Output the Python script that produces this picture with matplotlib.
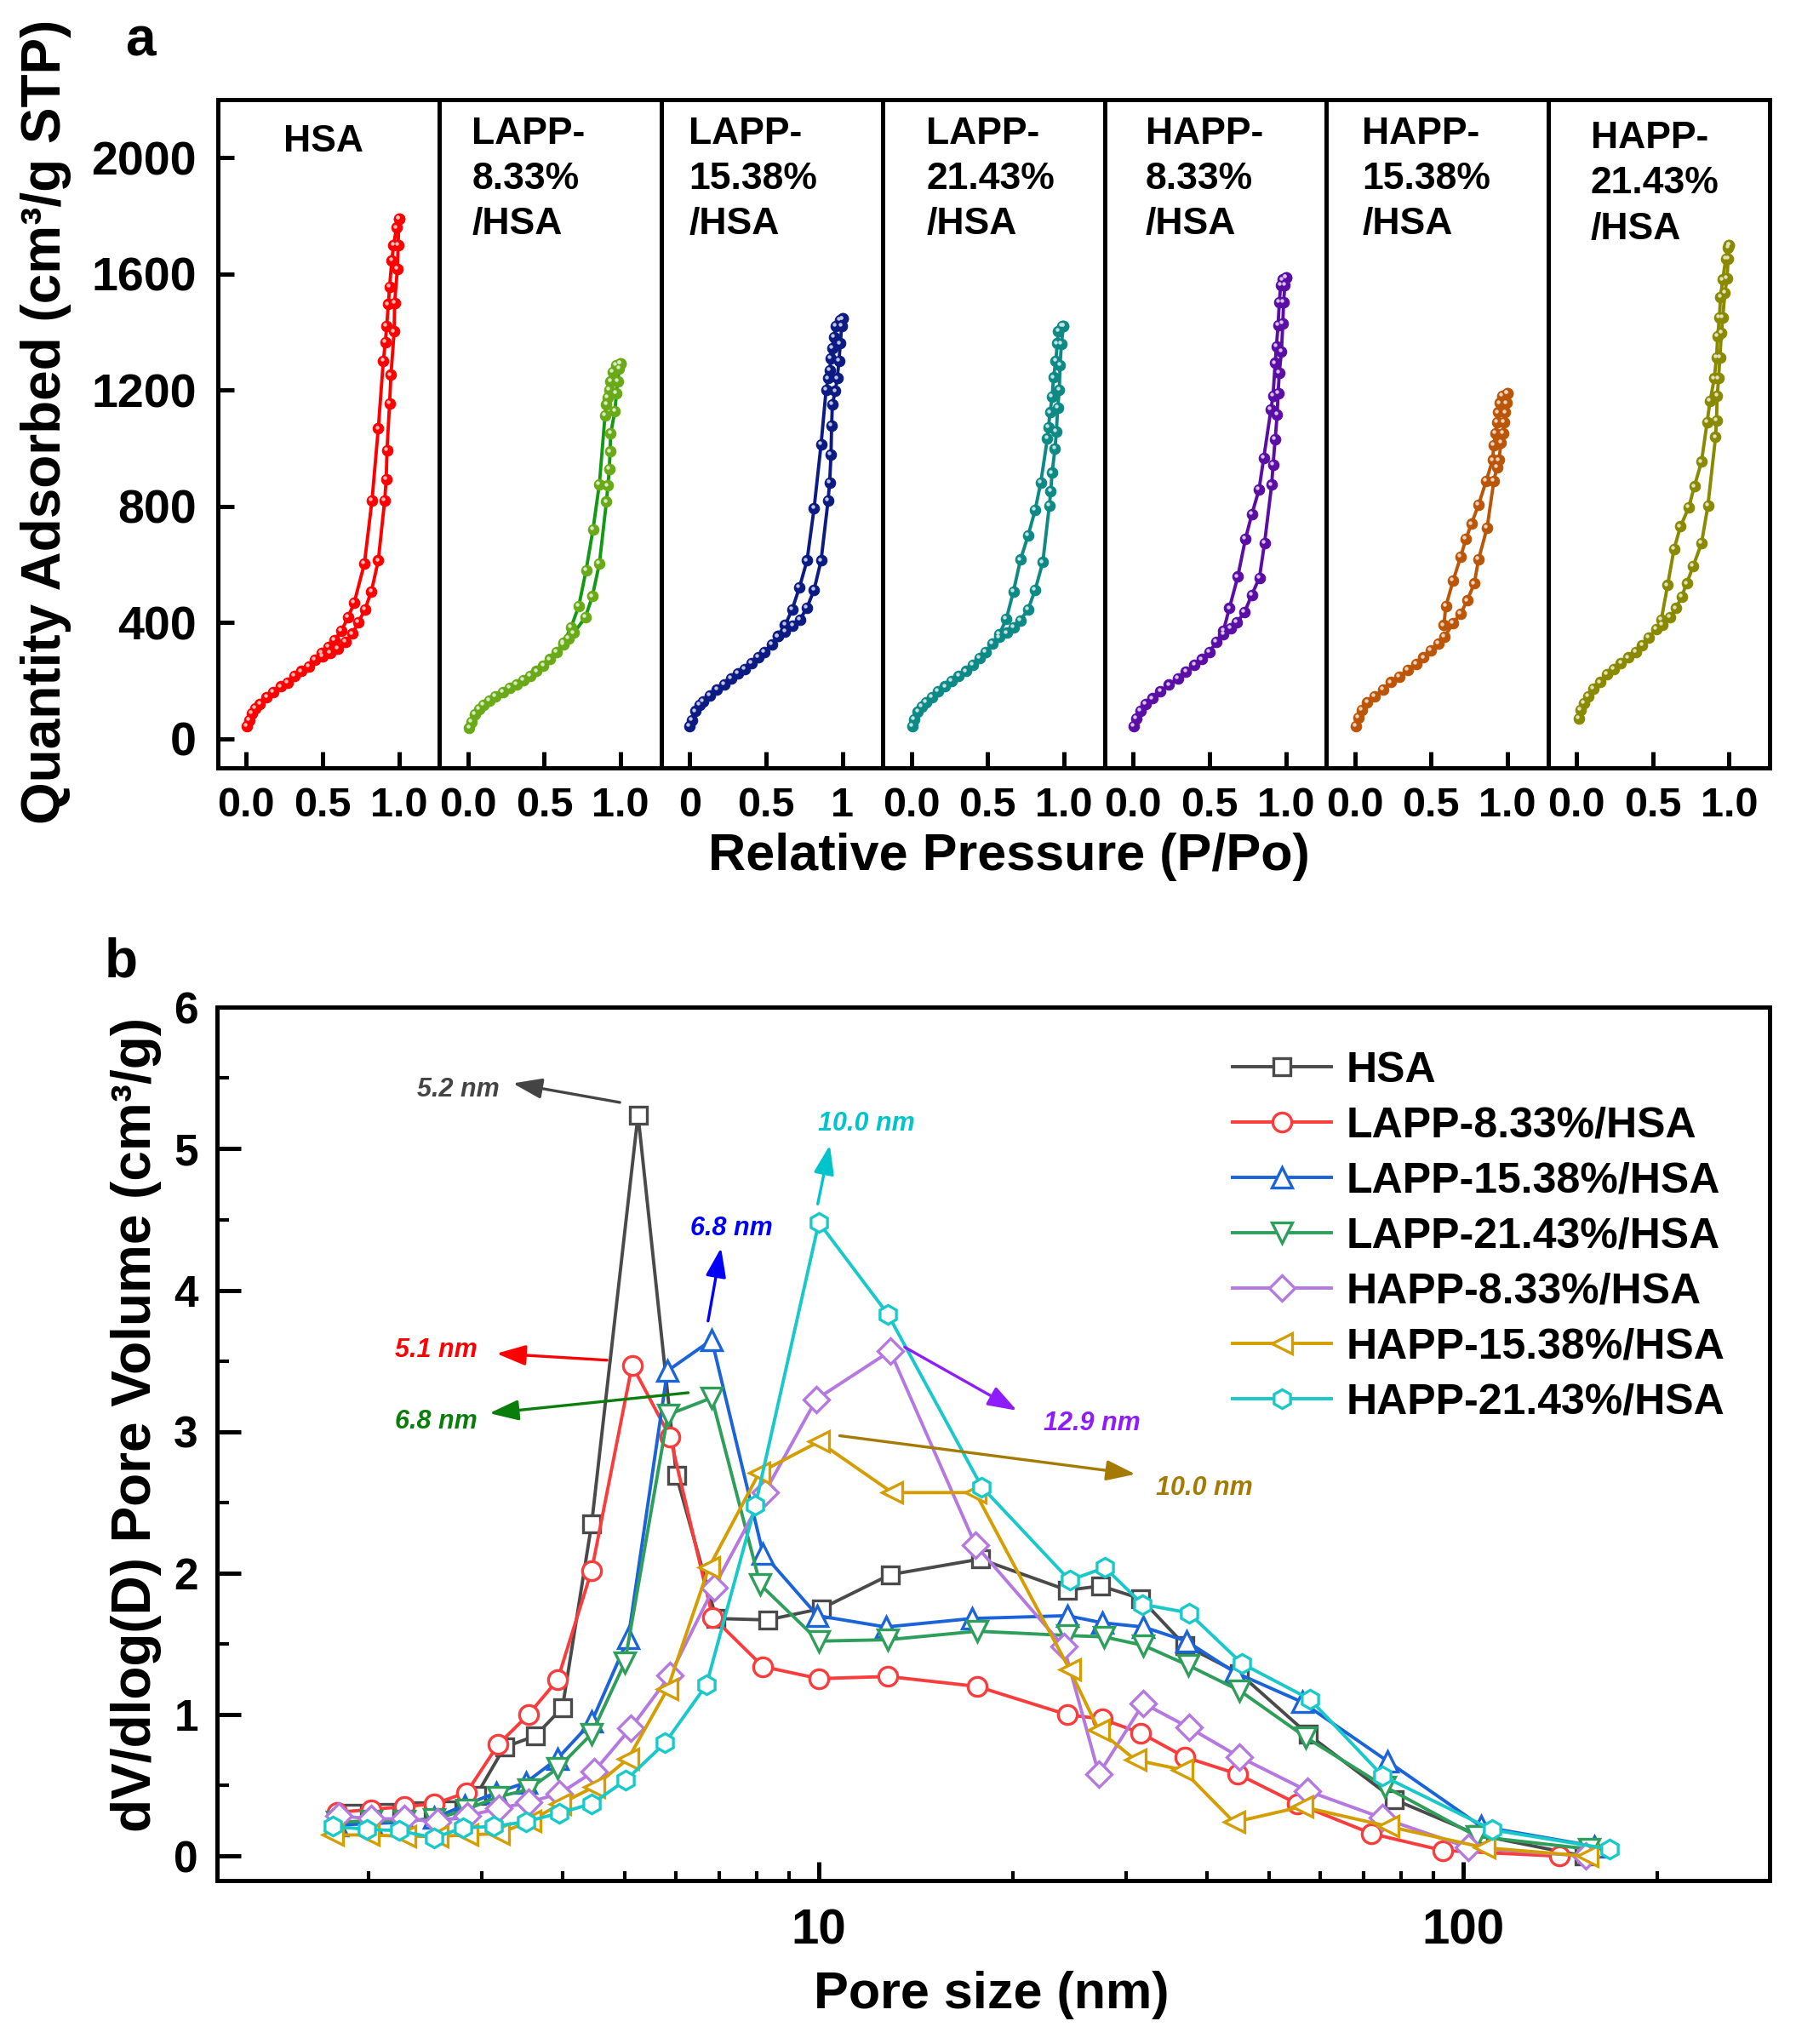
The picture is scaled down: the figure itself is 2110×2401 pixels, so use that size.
import numpy as np
import matplotlib
matplotlib.use('Agg')
import matplotlib.pyplot as plt
from matplotlib import transforms
from matplotlib.colors import to_rgb
from matplotlib.ticker import LogLocator, NullFormatter, FixedLocator

plt.rcParams['font.family'] = ['Liberation Sans', 'DejaVu Sans']
plt.rcParams['font.weight'] = 'bold'

# ---------------- (a) N2 isotherms ----------------
hsa_p_ads = [0.005, 0.02, 0.037, 0.06, 0.09, 0.135, 0.176, 0.226, 0.27, 0.315, 0.36, 0.41, 0.45, 0.5, 0.55, 0.6,
             0.652, 0.694, 0.735, 0.778, 0.82, 0.865, 0.907, 0.917, 0.922, 0.939, 0.948, 0.969, 0.972, 0.99, 0.995, 1.0]
hsa_q_ads = [43, 65, 87, 106, 121, 143, 160, 180, 194, 216, 233, 250, 272, 285, 296, 310,
             334, 362, 401, 446, 508, 614, 821, 894, 993, 1154, 1253, 1402, 1501, 1617, 1700, 1790]
hsa_p_des = [1.0, 0.985, 0.965, 0.954, 0.939, 0.931, 0.92, 0.911, 0.898, 0.865, 0.824, 0.774, 0.707, 0.667, 0.624, 0.578, 0.54, 0.494]
hsa_q_des = [1790, 1760, 1700, 1648, 1557, 1496, 1421, 1365, 1301, 1068, 821, 603, 468, 418, 373, 339, 317, 295]

l8_p_ads = [0.009, 0.024, 0.046, 0.074, 0.1, 0.139, 0.18, 0.228, 0.274, 0.319, 0.363, 0.407, 0.45, 0.494, 0.537, 0.583,
            0.626, 0.657, 0.694, 0.769, 0.815, 0.861, 0.907, 0.917, 0.926, 0.931, 0.935, 0.963, 0.972, 0.981, 0.991, 1.0]
l8_q_ads = [37, 59, 84, 102, 118, 132, 147, 160, 175, 188, 203, 216, 233, 252, 274, 300,
            325, 345, 365, 418, 491, 603, 816, 872, 928, 989, 1051, 1129, 1189, 1230, 1275, 1292]
l8_p_des = [1.0, 0.972, 0.95, 0.935, 0.926, 0.917, 0.907, 0.898, 0.861, 0.819, 0.774, 0.726, 0.676, 0.626]
l8_q_des = [1292, 1286, 1264, 1230, 1202, 1174, 1152, 1113, 877, 720, 580, 457, 384, 331]

l15_p_ads = [0.0, 0.015, 0.037, 0.065, 0.089, 0.133, 0.18, 0.226, 0.272, 0.315, 0.361, 0.407, 0.45, 0.491, 0.537, 0.58,
             0.626, 0.676, 0.722, 0.769, 0.815, 0.861, 0.907, 0.917, 0.926, 0.93, 0.935, 0.954, 0.967, 0.978, 0.987, 0.996, 1.0]
l15_q_ads = [43, 65, 95, 118, 129, 149, 169, 188, 207, 225, 241, 261, 281, 300, 326, 353,
             370, 390, 410, 452, 513, 614, 821, 883, 978, 1079, 1152, 1197, 1241, 1301, 1361, 1421, 1446]
l15_p_des = [1.0, 0.985, 0.959, 0.944, 0.935, 0.926, 0.917, 0.907, 0.894, 0.861, 0.815, 0.769, 0.719, 0.672, 0.626, 0.58]
l15_q_des = [1446, 1443, 1421, 1384, 1346, 1309, 1269, 1241, 1202, 1014, 793, 614, 521, 446, 392, 353]

l21_p_ads = [0.006, 0.02, 0.043, 0.07, 0.098, 0.135, 0.176, 0.222, 0.265, 0.311, 0.357, 0.404, 0.446, 0.487, 0.533, 0.576,
             0.626, 0.672, 0.713, 0.765, 0.811, 0.861, 0.904, 0.913, 0.922, 0.941, 0.95, 0.959, 0.969, 0.974, 0.983, 0.996]
l21_q_ads = [43, 68, 93, 112, 127, 143, 164, 180, 199, 216, 233, 255, 278, 300, 328, 350,
             365, 385, 407, 446, 513, 608, 804, 853, 916, 1000, 1057, 1141, 1202, 1286, 1359, 1421]
l21_p_des = [0.996, 0.987, 0.963, 0.956, 0.946, 0.931, 0.922, 0.909, 0.898, 0.891, 0.848, 0.811, 0.765, 0.715, 0.669, 0.622, 0.576]
l21_q_des = [1421, 1421, 1404, 1361, 1301, 1244, 1178, 1124, 1073, 1034, 883, 788, 700, 617, 508, 412, 360]

h8_p_ads = [0.006, 0.022, 0.047, 0.083, 0.125, 0.18, 0.236, 0.292, 0.347, 0.403, 0.45, 0.5, 0.547, 0.592, 0.639, 0.681,
            0.731, 0.778, 0.828, 0.861, 0.908, 0.917, 0.931, 0.944, 0.95, 0.958, 0.972, 0.981, 0.986, 0.994, 1.0]
h8_q_ads = [45, 71, 97, 121, 139, 163, 186, 209, 231, 254, 274, 300, 333, 360, 380, 401,
            437, 496, 555, 673, 875, 943, 1032, 1117, 1189, 1261, 1333, 1431, 1503, 1561, 1588]
h8_p_des = [1.0, 0.981, 0.967, 0.958, 0.95, 0.939, 0.931, 0.917, 0.903, 0.856, 0.825, 0.778, 0.736, 0.686, 0.631, 0.592]
h8_q_des = [1588, 1581, 1561, 1503, 1424, 1352, 1294, 1182, 1133, 967, 858, 773, 688, 558, 450, 372]

h15_p_ads = [0.006, 0.022, 0.047, 0.083, 0.131, 0.186, 0.236, 0.292, 0.347, 0.403, 0.45, 0.5, 0.547, 0.589, 0.644,
             0.694, 0.736, 0.783, 0.811, 0.867, 0.911, 0.931, 0.944, 0.958, 0.972, 0.978, 0.986, 0.992, 1.0]
h15_q_ads = [45, 74, 100, 126, 146, 169, 195, 215, 237, 258, 280, 304, 329, 352, 398,
             431, 476, 535, 618, 727, 888, 934, 960, 1019, 1052, 1091, 1124, 1156, 1189]
h15_p_des = [1.0, 0.967, 0.95, 0.939, 0.931, 0.922, 0.911, 0.903, 0.861, 0.811, 0.764, 0.728, 0.694, 0.644, 0.597, 0.583]
h15_q_des = [1189, 1182, 1156, 1124, 1091, 1052, 1012, 960, 888, 806, 740, 688, 627, 544, 457, 391]

h21_p_ads = [0.014, 0.028, 0.05, 0.075, 0.111, 0.153, 0.2, 0.244, 0.292, 0.339, 0.389, 0.431, 0.472, 0.522, 0.561, 0.611,
             0.653, 0.689, 0.722, 0.764, 0.819, 0.861, 0.911, 0.917, 0.922, 0.931, 0.939, 0.95, 0.958, 0.972, 0.986, 0.994, 1.0]
h21_q_ads = [71, 100, 124, 147, 173, 195, 222, 241, 261, 280, 300, 322, 348, 378, 392, 418,
             450, 490, 535, 594, 673, 803, 1039, 1097, 1182, 1241, 1313, 1398, 1450, 1535, 1585, 1653, 1699]
h21_p_des = [1.0, 0.994, 0.978, 0.958, 0.944, 0.936, 0.925, 0.917, 0.903, 0.875, 0.856, 0.819, 0.772, 0.736, 0.681, 0.639, 0.597, 0.556]
h21_q_des = [1699, 1692, 1653, 1581, 1522, 1450, 1385, 1313, 1241, 1163, 1091, 954, 869, 797, 731, 653, 529, 411]

panel_titles = ['HSA', 'LAPP-\n8.33%\n/HSA', 'LAPP-\n15.38%\n/HSA', 'LAPP-\n21.43%\n/HSA',
                'HAPP-\n8.33%\n/HSA', 'HAPP-\n15.38%\n/HSA', 'HAPP-\n21.43%\n/HSA']
panel_xticklabels = [['0.0', '0.5', '1.0']] * 2 + [['0', '0.5', '1']] + [['0.0', '0.5', '1.0']] * 4
iso_yticks = [0, 400, 800, 1200, 1600, 2000]

# ---------------- (b) BJH pore size distributions ----------------
series_names = ['HSA', 'LAPP-8.33%/HSA', 'LAPP-15.38%/HSA', 'LAPP-21.43%/HSA',
                'HAPP-8.33%/HSA', 'HAPP-15.38%/HSA', 'HAPP-21.43%/HSA']

hsa_d = [1.89, 2.12, 2.37, 2.65, 2.94, 3.25, 3.63, 4.0, 4.44, 5.24, 6.01, 6.93, 8.32, 10.09, 12.9,
         17.8, 24.3, 27.4, 31.6, 37.0, 45.0, 57.5, 78.2, 105.5, 154]
hsa_v = [0.30, 0.31, 0.32, 0.33, 0.43, 0.77, 0.85, 1.05, 2.35, 5.24, 2.69, 1.68, 1.67, 1.75, 1.99,
         2.10, 1.88, 1.91, 1.82, 1.49, 1.29, 0.86, 0.40, 0.15, 0.0]

l8_d = [1.79, 2.02, 2.27, 2.53, 2.84, 3.18, 3.54, 3.93, 4.44, 5.13, 5.88, 6.84, 8.19, 10.0, 12.8,
        17.6, 24.3, 27.5, 31.6, 37.0, 44.7, 55.3, 72.0, 93.0, 141]
l8_v = [0.31, 0.33, 0.35, 0.37, 0.45, 0.79, 1.0, 1.245, 2.02, 3.47, 2.96, 1.69, 1.34, 1.255, 1.27,
        1.20, 1.0, 0.97, 0.87, 0.70, 0.58, 0.37, 0.16, 0.04, 0.0]

l15_d = [1.79, 2.02, 2.27, 2.53, 2.82, 3.16, 3.51, 3.93, 4.44, 5.06, 5.82, 6.82, 8.19, 9.95, 12.7,
         17.3, 24.3, 27.5, 31.9, 37.2, 44.2, 56.2, 76.4, 106.7, 160]
l15_v = [0.22, 0.23, 0.24, 0.27, 0.36, 0.45, 0.52, 0.69, 0.95, 1.54, 3.43, 3.65, 2.14, 1.70, 1.62,
         1.68, 1.70, 1.65, 1.62, 1.52, 1.30, 1.09, 0.67, 0.21, 0.07]

l21_d = [1.79, 2.02, 2.27, 2.53, 2.84, 3.18, 3.54, 3.93, 4.44, 5.0, 5.83, 6.82, 8.11, 10.0, 12.8,
         17.6, 24.3, 27.7, 31.9, 37.4, 45.0, 57.0, 75.7, 105, 157]
l21_v = [0.24, 0.25, 0.25, 0.26, 0.33, 0.42, 0.47, 0.62, 0.865, 1.37, 3.12, 3.24, 1.92, 1.52, 1.53,
         1.59, 1.56, 1.55, 1.49, 1.35, 1.17, 0.84, 0.49, 0.14, 0.05]

h8_d = [1.80, 2.02, 2.27, 2.56, 2.85, 3.19, 3.54, 3.96, 4.48, 5.11, 5.87, 6.87, 8.25, 9.91, 12.9,
        17.5, 24.0, 27.2, 31.9, 37.5, 45.0, 57.4, 74.9, 102, 155]
h8_v = [0.285, 0.264, 0.264, 0.243, 0.285, 0.338, 0.38, 0.443, 0.60, 0.907, 1.276, 1.899, 2.574, 3.23, 3.57,
        2.20, 1.48, 0.58, 1.08, 0.91, 0.70, 0.46, 0.27, 0.06, 0.0]

h15_d = [1.76, 2.0, 2.28, 2.56, 2.85, 3.19, 3.57, 3.97, 4.48, 5.06, 5.82, 6.75, 8.08, 10.0, 13.0,
         17.5, 24.5, 27.2, 31.0, 36.7, 44.1, 56.2, 76.6, 107.8, 156]
h15_v = [0.15, 0.15, 0.14, 0.14, 0.15, 0.16, 0.25, 0.37, 0.49, 0.69, 1.18, 2.04, 2.71, 2.93, 2.57,
         2.57, 1.32, 0.89, 0.68, 0.61, 0.24, 0.35, 0.21, 0.06, 0.0]

h21_d = [1.76, 1.99, 2.23, 2.53, 2.8, 3.13, 3.51, 3.96, 4.44, 5.02, 5.77, 6.69, 7.97, 10.0, 12.8,
         17.9, 24.5, 27.8, 31.8, 37.5, 45.4, 57.8, 75.0, 111, 169]
h21_v = [0.21, 0.19, 0.18, 0.13, 0.20, 0.21, 0.243, 0.306, 0.37, 0.538, 0.80, 1.21, 2.48, 4.48, 3.83,
         2.61, 1.95, 2.04, 1.78, 1.72, 1.36, 1.11, 0.567, 0.186, 0.05]

peak_labels = ['5.2 nm', '5.1 nm', '6.8 nm', '6.8 nm', '10.0 nm', '12.9 nm', '10.0 nm']

# ---------------- styles ----------------
iso_colors = ['#ff0000', '#6aaa18', '#0c1b84', '#0e8a86', '#5b0ea6', '#bb5609', '#8a8a00']
iso_line_colors = ['#ff0000', '#129b12', '#0c1b84', '#0e8a86', '#5b0ea6', '#bb5609', '#8a8a00']
psd_colors = ['#4a4a4a', '#fa3c3c', '#1a63d9', '#2e9e5b', '#b478e0', '#d49d00', '#19c9c9']
psd_markers = ['s', 'o', '^', 'v', 'D', '<', 'h']
psd_msize = [14, 16, 17, 17, 15, 17, 16]

W, H = 2110, 2401


def fx(px):
    return px / W


def fy(py):
    return 1 - py / H


def lighten(c, f):
    r, g, b = to_rgb(c)
    return (r + (1 - r) * f, g + (1 - g) * f, b + (1 - b) * f)


fig = plt.figure(figsize=(W / 100, H / 100), dpi=100)

# ---------- panel a ----------
iso_data = [(hsa_p_ads, hsa_q_ads, hsa_p_des, hsa_q_des),
            (l8_p_ads, l8_q_ads, l8_p_des, l8_q_des),
            (l15_p_ads, l15_q_ads, l15_p_des, l15_q_des),
            (l21_p_ads, l21_q_ads, l21_p_des, l21_q_des),
            (h8_p_ads, h8_q_ads, h8_p_des, h8_q_des),
            (h15_p_ads, h15_q_ads, h15_p_des, h15_q_des),
            (h21_p_ads, h21_q_ads, h21_p_des, h21_q_des)]
title_x = [0.296, 0.147, 0.125, 0.196, 0.185, 0.162, 0.193]
title_y = [0.975, 0.975, 0.975, 0.975, 0.975, 0.975, 0.968]

x0, pw = 255.7, 260.47
y_top, y_bot = 117.2, 902.0
for i, (pa, qa, pd_, qd) in enumerate(iso_data):
    ax = fig.add_axes([fx(x0 + i * pw), fy(y_bot), pw / W, (y_bot - y_top) / H])
    col = iso_colors[i]
    lcol = iso_line_colors[i]
    hl = transforms.offset_copy(ax.transData, fig=fig, x=-1.3, y=1.3, units='points')
    for p, q in [(pa, qa), (pd_, qd)]:
        ax.plot(p, q, '-', color=lcol, lw=2.8, zorder=2)
        ax.plot(p, q, 'o', ms=9, mfc=col, mec=col, mew=0.8, zorder=3)
        ax.plot(p, q, 'o', ms=3.2, mfc=lighten(col, 0.75), mec='none', transform=hl, zorder=4)
    ax.set_xlim(-0.187, 1.265)
    ax.set_ylim(-100, 2200)
    ax.set_xticks([0, 0.5, 1.0])
    ax.set_xticklabels(panel_xticklabels[i])
    ax.tick_params(axis='x', direction='in', length=14, width=3.6, pad=16, labelsize=35)
    if i == 0:
        ax.set_yticks(iso_yticks)
        ax.tick_params(axis='y', direction='in', length=14, width=3.6, pad=18, labelsize=40)
    else:
        ax.set_yticks([])
    for s in ax.spines.values():
        s.set_linewidth(3.6)
    ax.text(title_x[i], title_y[i] if i else 0.9376, panel_titles[i], transform=ax.transAxes,
            ha='left', va='top' if i else 'center', fontsize=32, weight='bold', linespacing=1.38)

fig.text(fx(54), fy(495), 'Quantity Adsorbed (cm³/g STP)', rotation=90, ha='center', va='center',
         fontsize=46, weight='bold')
fig.text(fx(1185), fy(1007), 'Relative Pressure (P/Po)', ha='center', va='center', fontsize=44, weight='bold')
fig.text(fx(165), fy(49), 'a', ha='center', va='center', fontsize=46, weight='bold')

# ---------- panel b ----------
ax2 = fig.add_axes([fx(255), fy(2208.6), (2079 - 255) / W, (2208.6 - 1183.3) / H])
psd_data = [(hsa_d, hsa_v), (l8_d, l8_v), (l15_d, l15_v), (l21_d, l21_v),
            (h8_d, h8_v), (h15_d, h15_v), (h21_d, h21_v)]
for i, (d, v) in enumerate(psd_data):
    ax2.plot(d, v, '-', color=psd_colors[i], lw=2.8, marker=psd_markers[i], ms=psd_msize[i],
             mfc='white', mec=psd_colors[i], mew=2.4, label=series_names[i], zorder=3 + i)

ax2.set_xscale('log')
ax2.set_xlim(1.164, 299)
ax2.set_ylim(-0.17, 6)
ax2.xaxis.set_major_locator(FixedLocator([10, 100]))
ax2.set_xticklabels(['10', '100'])
ax2.xaxis.set_minor_locator(LogLocator(base=10, subs=np.arange(2, 10)))
ax2.xaxis.set_minor_formatter(NullFormatter())
ax2.set_yticks([0, 1, 2, 3, 4, 5, 6])
ax2.set_yticks(np.arange(0.5, 6, 1.0), minor=True)
ax2.tick_params(axis='x', which='major', direction='in', length=16, width=3.6, pad=24, labelsize=42)
ax2.tick_params(axis='x', which='minor', direction='in', length=8, width=3.0)
ax2.tick_params(axis='y', which='major', direction='in', length=20, width=3.6, pad=16, labelsize=37)
ax2.tick_params(axis='y', which='minor', direction='in', length=10, width=3.0)
for s in ax2.spines.values():
    s.set_linewidth(3.6)

leg = ax2.legend(loc='upper left', bbox_to_anchor=(0.654, 0.950), frameon=False,
                 prop={'size': 36, 'weight': 'bold'}, handlelength=2.32, handletextpad=0.36,
                 labelspacing=0.38, borderpad=0, borderaxespad=0)

# peak annotations: arrow tail, arrow head, text position
ann_tail = [(4.91, 5.328), (4.69, 3.506), (6.27, 3.276), (6.73, 3.783), (9.96, 4.61), (13.59, 3.598), (10.77, 2.972)]
ann_head = [(3.35, 5.463), (3.16, 3.553), (3.08, 3.131), (7.05, 4.30), (10.4, 5.026), (20.3, 3.15), (31.0, 2.70)]
ann_text = [(2.76, 5.418), (2.55, 3.575), (2.55, 3.069), (7.31, 4.44), (11.87, 5.18), (26.5, 3.057), (39.6, 2.604)]
ann_colors = ['#444444', '#ff0000', '#0a7d0a', '#0000ff', '#00c4cc', '#8f1cff', '#a47a00']
for lab, t, h, tx, c in zip(peak_labels, ann_tail, ann_head, ann_text, ann_colors):
    ax2.annotate('', xy=h, xytext=t,
                 arrowprops=dict(arrowstyle='-|>,head_length=0.8,head_width=0.28', color=c, lw=2.4,
                                 mutation_scale=26, shrinkA=0, shrinkB=0), zorder=12)
    ax2.text(tx[0], tx[1], lab, color=c, ha='center', va='center', fontsize=22,
             style='italic', weight='bold', zorder=12)

fig.text(fx(160), fy(1674), 'dV/dlog(D) Pore Volume (cm³/g)', rotation=90, ha='center', va='center',
         fontsize=46, weight='bold')
fig.text(fx(1165), fy(2343), 'Pore size (nm)', ha='center', va='center', fontsize=44, weight='bold')
fig.text(fx(142), fy(1131), 'b', ha='center', va='center', fontsize=46, weight='bold')

fig.savefig('out.png', dpi=100)
